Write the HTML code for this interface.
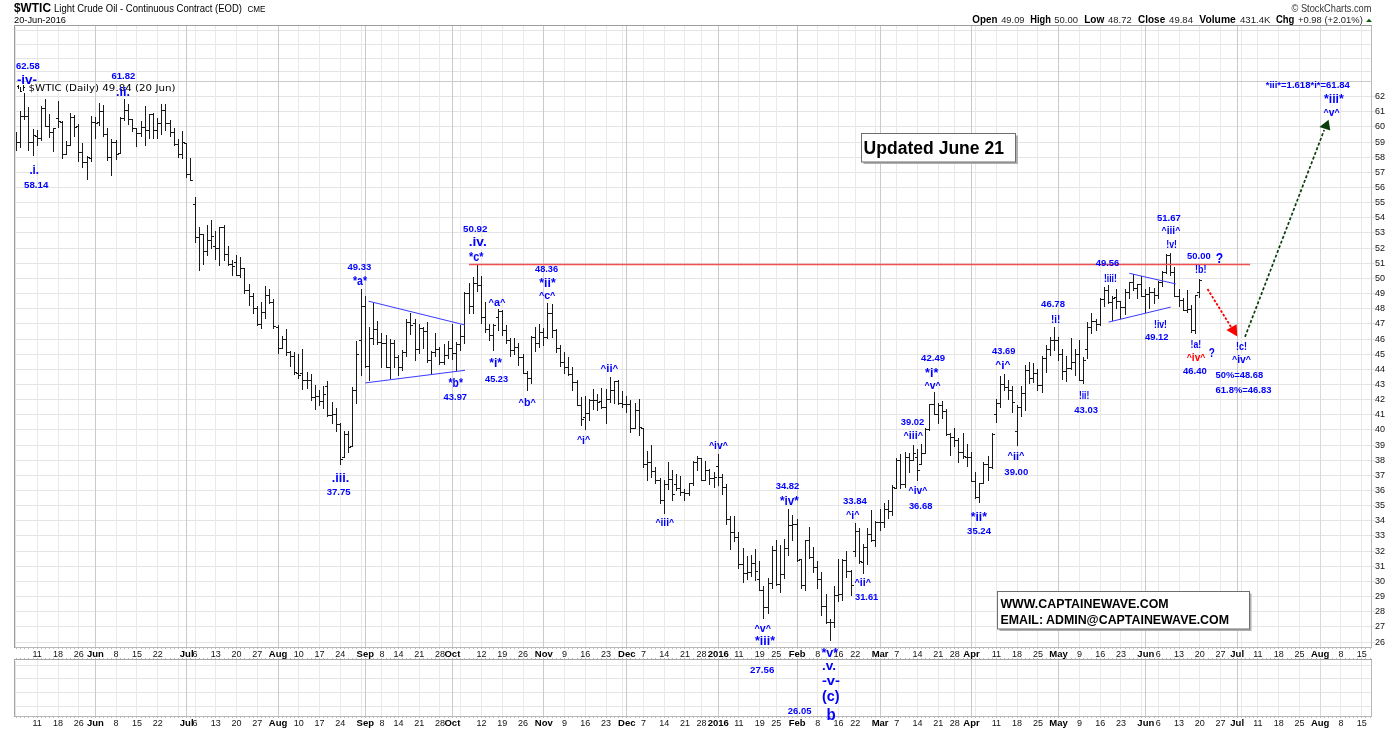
<!DOCTYPE html><html><head><meta charset="utf-8"><title>$WTIC Light Crude Oil</title><style>html,body{margin:0;padding:0;background:#fff}body{width:1400px;height:730px;overflow:hidden}</style></head><body><svg width="1400" height="730" viewBox="0 0 1400 730" style="display:block;font-family:'Liberation Sans',sans-serif">
<rect width="1400" height="730" fill="#fff"/>
<g shape-rendering="crispEdges" fill="none"><path d="M14.5 30.5H1371.5" stroke="#e4e4e4"/><path d="M14.5 44.5H1371.5" stroke="#e4e4e4"/><path d="M14.5 58.5H1371.5" stroke="#e4e4e4"/><path d="M14.5 71.5H1371.5" stroke="#e4e4e4"/><path d="M14.5 642.5H1374.5" stroke="#e4e4e4"/><path d="M14.5 626.5H1374.5" stroke="#e4e4e4"/><path d="M14.5 611.5H1374.5" stroke="#e4e4e4"/><path d="M14.5 596.5H1374.5" stroke="#e4e4e4"/><path d="M14.5 581.5H1374.5" stroke="#e4e4e4"/><path d="M14.5 566.5H1374.5" stroke="#e4e4e4"/><path d="M14.5 551.5H1374.5" stroke="#e4e4e4"/><path d="M14.5 535.5H1374.5" stroke="#e4e4e4"/><path d="M14.5 520.5H1374.5" stroke="#e4e4e4"/><path d="M14.5 505.5H1374.5" stroke="#e4e4e4"/><path d="M14.5 490.5H1374.5" stroke="#e4e4e4"/><path d="M14.5 475.5H1374.5" stroke="#e4e4e4"/><path d="M14.5 460.5H1374.5" stroke="#e4e4e4"/><path d="M14.5 445.5H1374.5" stroke="#e4e4e4"/><path d="M14.5 429.5H1374.5" stroke="#e4e4e4"/><path d="M14.5 414.5H1374.5" stroke="#e4e4e4"/><path d="M14.5 399.5H1374.5" stroke="#e4e4e4"/><path d="M14.5 384.5H1374.5" stroke="#e4e4e4"/><path d="M14.5 369.5H1374.5" stroke="#e4e4e4"/><path d="M14.5 354.5H1374.5" stroke="#e4e4e4"/><path d="M14.5 339.5H1374.5" stroke="#e4e4e4"/><path d="M14.5 323.5H1374.5" stroke="#e4e4e4"/><path d="M14.5 308.5H1374.5" stroke="#e4e4e4"/><path d="M14.5 293.5H1374.5" stroke="#e4e4e4"/><path d="M14.5 278.5H1374.5" stroke="#e4e4e4"/><path d="M14.5 263.5H1374.5" stroke="#e4e4e4"/><path d="M14.5 248.5H1374.5" stroke="#e4e4e4"/><path d="M14.5 232.5H1374.5" stroke="#e4e4e4"/><path d="M14.5 217.5H1374.5" stroke="#e4e4e4"/><path d="M14.5 202.5H1374.5" stroke="#e4e4e4"/><path d="M14.5 187.5H1374.5" stroke="#e4e4e4"/><path d="M14.5 172.5H1374.5" stroke="#e4e4e4"/><path d="M14.5 157.5H1374.5" stroke="#e4e4e4"/><path d="M14.5 142.5H1374.5" stroke="#e4e4e4"/><path d="M14.5 126.5H1374.5" stroke="#e4e4e4"/><path d="M14.5 111.5H1374.5" stroke="#e4e4e4"/><path d="M14.5 96.5H1374.5" stroke="#e4e4e4"/><path d="M14.5 665.5H1371.5" stroke="#e4e4e4"/><path d="M14.5 678.5H1371.5" stroke="#e4e4e4"/><path d="M14.5 692.5H1371.5" stroke="#e4e4e4"/><path d="M14.5 706.5H1371.5" stroke="#e4e4e4"/><path d="M37.5 25.5V647.5M37.5 659.5V716.5" stroke="#e9e9e9"/><path d="M58.5 25.5V647.5M58.5 659.5V716.5" stroke="#e9e9e9"/><path d="M78.5 25.5V647.5M78.5 659.5V716.5" stroke="#e9e9e9"/><path d="M95.5 25.5V647.5M95.5 659.5V716.5" stroke="#cacaca"/><path d="M116.5 25.5V647.5M116.5 659.5V716.5" stroke="#e9e9e9"/><path d="M136.5 25.5V647.5M136.5 659.5V716.5" stroke="#e9e9e9"/><path d="M157.5 25.5V647.5M157.5 659.5V716.5" stroke="#e9e9e9"/><path d="M178.5 25.5V647.5M178.5 659.5V716.5" stroke="#e9e9e9"/><path d="M186.5 25.5V647.5M186.5 659.5V716.5" stroke="#cacaca"/><path d="M195.5 25.5V647.5M195.5 659.5V716.5" stroke="#e9e9e9"/><path d="M215.5 25.5V647.5M215.5 659.5V716.5" stroke="#e9e9e9"/><path d="M236.5 25.5V647.5M236.5 659.5V716.5" stroke="#e9e9e9"/><path d="M257.5 25.5V647.5M257.5 659.5V716.5" stroke="#e9e9e9"/><path d="M278.5 25.5V647.5M278.5 659.5V716.5" stroke="#cacaca"/><path d="M298.5 25.5V647.5M298.5 659.5V716.5" stroke="#e9e9e9"/><path d="M319.5 25.5V647.5M319.5 659.5V716.5" stroke="#e9e9e9"/><path d="M340.5 25.5V647.5M340.5 659.5V716.5" stroke="#e9e9e9"/><path d="M361.5 25.5V647.5M361.5 659.5V716.5" stroke="#e9e9e9"/><path d="M365.5 25.5V647.5M365.5 659.5V716.5" stroke="#cacaca"/><path d="M381.5 25.5V647.5M381.5 659.5V716.5" stroke="#e9e9e9"/><path d="M398.5 25.5V647.5M398.5 659.5V716.5" stroke="#e9e9e9"/><path d="M419.5 25.5V647.5M419.5 659.5V716.5" stroke="#e9e9e9"/><path d="M439.5 25.5V647.5M439.5 659.5V716.5" stroke="#e9e9e9"/><path d="M452.5 25.5V647.5M452.5 659.5V716.5" stroke="#cacaca"/><path d="M460.5 25.5V647.5M460.5 659.5V716.5" stroke="#e9e9e9"/><path d="M481.5 25.5V647.5M481.5 659.5V716.5" stroke="#e9e9e9"/><path d="M502.5 25.5V647.5M502.5 659.5V716.5" stroke="#e9e9e9"/><path d="M523.5 25.5V647.5M523.5 659.5V716.5" stroke="#e9e9e9"/><path d="M543.5 25.5V647.5M543.5 659.5V716.5" stroke="#cacaca"/><path d="M564.5 25.5V647.5M564.5 659.5V716.5" stroke="#e9e9e9"/><path d="M585.5 25.5V647.5M585.5 659.5V716.5" stroke="#e9e9e9"/><path d="M606.5 25.5V647.5M606.5 659.5V716.5" stroke="#e9e9e9"/><path d="M622.5 25.5V647.5M622.5 659.5V716.5" stroke="#e9e9e9"/><path d="M626.5 25.5V647.5M626.5 659.5V716.5" stroke="#cacaca"/><path d="M643.5 25.5V647.5M643.5 659.5V716.5" stroke="#e9e9e9"/><path d="M664.5 25.5V647.5M664.5 659.5V716.5" stroke="#e9e9e9"/><path d="M684.5 25.5V647.5M684.5 659.5V716.5" stroke="#e9e9e9"/><path d="M701.5 25.5V647.5M701.5 659.5V716.5" stroke="#e9e9e9"/><path d="M718.5 25.5V647.5M718.5 659.5V716.5" stroke="#cacaca"/><path d="M738.5 25.5V647.5M738.5 659.5V716.5" stroke="#e9e9e9"/><path d="M759.5 25.5V647.5M759.5 659.5V716.5" stroke="#e9e9e9"/><path d="M776.5 25.5V647.5M776.5 659.5V716.5" stroke="#e9e9e9"/><path d="M797.5 25.5V647.5M797.5 659.5V716.5" stroke="#cacaca"/><path d="M817.5 25.5V647.5M817.5 659.5V716.5" stroke="#e9e9e9"/><path d="M838.5 25.5V647.5M838.5 659.5V716.5" stroke="#e9e9e9"/><path d="M855.5 25.5V647.5M855.5 659.5V716.5" stroke="#e9e9e9"/><path d="M875.5 25.5V647.5M875.5 659.5V716.5" stroke="#e9e9e9"/><path d="M880.5 25.5V647.5M880.5 659.5V716.5" stroke="#cacaca"/><path d="M896.5 25.5V647.5M896.5 659.5V716.5" stroke="#e9e9e9"/><path d="M917.5 25.5V647.5M917.5 659.5V716.5" stroke="#e9e9e9"/><path d="M938.5 25.5V647.5M938.5 659.5V716.5" stroke="#e9e9e9"/><path d="M954.5 25.5V647.5M954.5 659.5V716.5" stroke="#e9e9e9"/><path d="M971.5 25.5V647.5M971.5 659.5V716.5" stroke="#cacaca"/><path d="M975.5 25.5V647.5M975.5 659.5V716.5" stroke="#e9e9e9"/><path d="M996.5 25.5V647.5M996.5 659.5V716.5" stroke="#e9e9e9"/><path d="M1017.5 25.5V647.5M1017.5 659.5V716.5" stroke="#e9e9e9"/><path d="M1037.5 25.5V647.5M1037.5 659.5V716.5" stroke="#e9e9e9"/><path d="M1058.5 25.5V647.5M1058.5 659.5V716.5" stroke="#cacaca"/><path d="M1079.5 25.5V647.5M1079.5 659.5V716.5" stroke="#e9e9e9"/><path d="M1100.5 25.5V647.5M1100.5 659.5V716.5" stroke="#e9e9e9"/><path d="M1120.5 25.5V647.5M1120.5 659.5V716.5" stroke="#e9e9e9"/><path d="M1141.5 25.5V647.5M1141.5 659.5V716.5" stroke="#e9e9e9"/><path d="M1145.5 25.5V647.5M1145.5 659.5V716.5" stroke="#cacaca"/><path d="M1158.5 25.5V647.5M1158.5 659.5V716.5" stroke="#e9e9e9"/><path d="M1179.5 25.5V647.5M1179.5 659.5V716.5" stroke="#e9e9e9"/><path d="M1199.5 25.5V647.5M1199.5 659.5V716.5" stroke="#e9e9e9"/><path d="M1220.5 25.5V647.5M1220.5 659.5V716.5" stroke="#e9e9e9"/><path d="M1237.5 25.5V647.5M1237.5 659.5V716.5" stroke="#cacaca"/><path d="M1241.5 25.5V647.5M1241.5 659.5V716.5" stroke="#e9e9e9"/><path d="M1257.5 25.5V647.5M1257.5 659.5V716.5" stroke="#e9e9e9"/><path d="M1278.5 25.5V647.5M1278.5 659.5V716.5" stroke="#e9e9e9"/><path d="M1299.5 25.5V647.5M1299.5 659.5V716.5" stroke="#e9e9e9"/><path d="M1320.5 25.5V647.5M1320.5 659.5V716.5" stroke="#d9d9d9"/><path d="M1340.5 25.5V647.5M1340.5 659.5V716.5" stroke="#e9e9e9"/><path d="M1361.5 25.5V647.5M1361.5 659.5V716.5" stroke="#e9e9e9"/>
<path d="M14.5 81.5H1371.5" stroke="#cacaca"/>
<path d="M1371.5 25.5V647.5H14.5" stroke="#b8b8b8"/><path d="M14.5 647.5V25.5H1371.5" stroke="#9c9c9c"/>
<path d="M15.5 26.5V646.5M15.5 660.5V715.5" stroke="#e4e4e4"/>
<path d="M1371.5 659.5V716.5H14.5" stroke="#b8b8b8"/><path d="M14.5 716.5V659.5H1371.5" stroke="#a4a4a4"/>
<path d="M16 648.0h1M16 658.0h1M16 717.0h1M20 648.0h1M20 658.0h1M20 717.0h1M24 648.0h1M24 658.0h1M24 717.0h1M28 648.0h1M28 658.0h1M28 717.0h1M33 648.0h1M33 658.0h1M33 717.0h1M37 648.0h1M37 658.0h1M37 717.0h1M41 648.0h1M41 658.0h1M41 717.0h1M45 648.0h1M45 658.0h1M45 717.0h1M49 648.0h1M49 658.0h1M49 717.0h1M53 648.0h1M53 658.0h1M53 717.0h1M58 648.0h1M58 658.0h1M58 717.0h1M62 648.0h1M62 658.0h1M62 717.0h1M66 648.0h1M66 658.0h1M66 717.0h1M70 648.0h1M70 658.0h1M70 717.0h1M74 648.0h1M74 658.0h1M74 717.0h1M78 648.0h1M78 658.0h1M78 717.0h1M82 648.0h1M82 658.0h1M82 717.0h1M87 648.0h1M87 658.0h1M87 717.0h1M91 648.0h1M91 658.0h1M91 717.0h1M95 648.0h1M95 658.0h1M95 717.0h1M99 648.0h1M99 658.0h1M99 717.0h1M103 648.0h1M103 658.0h1M103 717.0h1M107 648.0h1M107 658.0h1M107 717.0h1M111 648.0h1M111 658.0h1M111 717.0h1M116 648.0h1M116 658.0h1M116 717.0h1M120 648.0h1M120 658.0h1M120 717.0h1M124 648.0h1M124 658.0h1M124 717.0h1M128 648.0h1M128 658.0h1M128 717.0h1M132 648.0h1M132 658.0h1M132 717.0h1M136 648.0h1M136 658.0h1M136 717.0h1M141 648.0h1M141 658.0h1M141 717.0h1M145 648.0h1M145 658.0h1M145 717.0h1M149 648.0h1M149 658.0h1M149 717.0h1M153 648.0h1M153 658.0h1M153 717.0h1M157 648.0h1M157 658.0h1M157 717.0h1M161 648.0h1M161 658.0h1M161 717.0h1M165 648.0h1M165 658.0h1M165 717.0h1M170 648.0h1M170 658.0h1M170 717.0h1M174 648.0h1M174 658.0h1M174 717.0h1M178 648.0h1M178 658.0h1M178 717.0h1M182 648.0h1M182 658.0h1M182 717.0h1M186 648.0h1M186 658.0h1M186 717.0h1M190 648.0h1M190 658.0h1M190 717.0h1M195 648.0h1M195 658.0h1M195 717.0h1M199 648.0h1M199 658.0h1M199 717.0h1M203 648.0h1M203 658.0h1M203 717.0h1M207 648.0h1M207 658.0h1M207 717.0h1M211 648.0h1M211 658.0h1M211 717.0h1M215 648.0h1M215 658.0h1M215 717.0h1M219 648.0h1M219 658.0h1M219 717.0h1M224 648.0h1M224 658.0h1M224 717.0h1M228 648.0h1M228 658.0h1M228 717.0h1M232 648.0h1M232 658.0h1M232 717.0h1M236 648.0h1M236 658.0h1M236 717.0h1M240 648.0h1M240 658.0h1M240 717.0h1M244 648.0h1M244 658.0h1M244 717.0h1M249 648.0h1M249 658.0h1M249 717.0h1M253 648.0h1M253 658.0h1M253 717.0h1M257 648.0h1M257 658.0h1M257 717.0h1M261 648.0h1M261 658.0h1M261 717.0h1M265 648.0h1M265 658.0h1M265 717.0h1M269 648.0h1M269 658.0h1M269 717.0h1M273 648.0h1M273 658.0h1M273 717.0h1M278 648.0h1M278 658.0h1M278 717.0h1M282 648.0h1M282 658.0h1M282 717.0h1M286 648.0h1M286 658.0h1M286 717.0h1M290 648.0h1M290 658.0h1M290 717.0h1M294 648.0h1M294 658.0h1M294 717.0h1M298 648.0h1M298 658.0h1M298 717.0h1M302 648.0h1M302 658.0h1M302 717.0h1M307 648.0h1M307 658.0h1M307 717.0h1M311 648.0h1M311 658.0h1M311 717.0h1M315 648.0h1M315 658.0h1M315 717.0h1M319 648.0h1M319 658.0h1M319 717.0h1M323 648.0h1M323 658.0h1M323 717.0h1M327 648.0h1M327 658.0h1M327 717.0h1M332 648.0h1M332 658.0h1M332 717.0h1M336 648.0h1M336 658.0h1M336 717.0h1M340 648.0h1M340 658.0h1M340 717.0h1M344 648.0h1M344 658.0h1M344 717.0h1M348 648.0h1M348 658.0h1M348 717.0h1M352 648.0h1M352 658.0h1M352 717.0h1M356 648.0h1M356 658.0h1M356 717.0h1M361 648.0h1M361 658.0h1M361 717.0h1M365 648.0h1M365 658.0h1M365 717.0h1M369 648.0h1M369 658.0h1M369 717.0h1M373 648.0h1M373 658.0h1M373 717.0h1M377 648.0h1M377 658.0h1M377 717.0h1M381 648.0h1M381 658.0h1M381 717.0h1M386 648.0h1M386 658.0h1M386 717.0h1M390 648.0h1M390 658.0h1M390 717.0h1M394 648.0h1M394 658.0h1M394 717.0h1M398 648.0h1M398 658.0h1M398 717.0h1M402 648.0h1M402 658.0h1M402 717.0h1M406 648.0h1M406 658.0h1M406 717.0h1M410 648.0h1M410 658.0h1M410 717.0h1M415 648.0h1M415 658.0h1M415 717.0h1M419 648.0h1M419 658.0h1M419 717.0h1M423 648.0h1M423 658.0h1M423 717.0h1M427 648.0h1M427 658.0h1M427 717.0h1M431 648.0h1M431 658.0h1M431 717.0h1M435 648.0h1M435 658.0h1M435 717.0h1M439 648.0h1M439 658.0h1M439 717.0h1M444 648.0h1M444 658.0h1M444 717.0h1M448 648.0h1M448 658.0h1M448 717.0h1M452 648.0h1M452 658.0h1M452 717.0h1M456 648.0h1M456 658.0h1M456 717.0h1M460 648.0h1M460 658.0h1M460 717.0h1M464 648.0h1M464 658.0h1M464 717.0h1M469 648.0h1M469 658.0h1M469 717.0h1M473 648.0h1M473 658.0h1M473 717.0h1M477 648.0h1M477 658.0h1M477 717.0h1M481 648.0h1M481 658.0h1M481 717.0h1M485 648.0h1M485 658.0h1M485 717.0h1M489 648.0h1M489 658.0h1M489 717.0h1M493 648.0h1M493 658.0h1M493 717.0h1M498 648.0h1M498 658.0h1M498 717.0h1M502 648.0h1M502 658.0h1M502 717.0h1M506 648.0h1M506 658.0h1M506 717.0h1M510 648.0h1M510 658.0h1M510 717.0h1M514 648.0h1M514 658.0h1M514 717.0h1M518 648.0h1M518 658.0h1M518 717.0h1M523 648.0h1M523 658.0h1M523 717.0h1M527 648.0h1M527 658.0h1M527 717.0h1M531 648.0h1M531 658.0h1M531 717.0h1M535 648.0h1M535 658.0h1M535 717.0h1M539 648.0h1M539 658.0h1M539 717.0h1M543 648.0h1M543 658.0h1M543 717.0h1M547 648.0h1M547 658.0h1M547 717.0h1M552 648.0h1M552 658.0h1M552 717.0h1M556 648.0h1M556 658.0h1M556 717.0h1M560 648.0h1M560 658.0h1M560 717.0h1M564 648.0h1M564 658.0h1M564 717.0h1M568 648.0h1M568 658.0h1M568 717.0h1M572 648.0h1M572 658.0h1M572 717.0h1M577 648.0h1M577 658.0h1M577 717.0h1M581 648.0h1M581 658.0h1M581 717.0h1M585 648.0h1M585 658.0h1M585 717.0h1M589 648.0h1M589 658.0h1M589 717.0h1M593 648.0h1M593 658.0h1M593 717.0h1M597 648.0h1M597 658.0h1M597 717.0h1M601 648.0h1M601 658.0h1M601 717.0h1M606 648.0h1M606 658.0h1M606 717.0h1M610 648.0h1M610 658.0h1M610 717.0h1M614 648.0h1M614 658.0h1M614 717.0h1M618 648.0h1M618 658.0h1M618 717.0h1M622 648.0h1M622 658.0h1M622 717.0h1M626 648.0h1M626 658.0h1M626 717.0h1M630 648.0h1M630 658.0h1M630 717.0h1M635 648.0h1M635 658.0h1M635 717.0h1M639 648.0h1M639 658.0h1M639 717.0h1M643 648.0h1M643 658.0h1M643 717.0h1M647 648.0h1M647 658.0h1M647 717.0h1M651 648.0h1M651 658.0h1M651 717.0h1M655 648.0h1M655 658.0h1M655 717.0h1M660 648.0h1M660 658.0h1M660 717.0h1M664 648.0h1M664 658.0h1M664 717.0h1M668 648.0h1M668 658.0h1M668 717.0h1M672 648.0h1M672 658.0h1M672 717.0h1M676 648.0h1M676 658.0h1M676 717.0h1M680 648.0h1M680 658.0h1M680 717.0h1M684 648.0h1M684 658.0h1M684 717.0h1M689 648.0h1M689 658.0h1M689 717.0h1M693 648.0h1M693 658.0h1M693 717.0h1M697 648.0h1M697 658.0h1M697 717.0h1M701 648.0h1M701 658.0h1M701 717.0h1M705 648.0h1M705 658.0h1M705 717.0h1M709 648.0h1M709 658.0h1M709 717.0h1M714 648.0h1M714 658.0h1M714 717.0h1M718 648.0h1M718 658.0h1M718 717.0h1M722 648.0h1M722 658.0h1M722 717.0h1M726 648.0h1M726 658.0h1M726 717.0h1M730 648.0h1M730 658.0h1M730 717.0h1M734 648.0h1M734 658.0h1M734 717.0h1M738 648.0h1M738 658.0h1M738 717.0h1M743 648.0h1M743 658.0h1M743 717.0h1M747 648.0h1M747 658.0h1M747 717.0h1M751 648.0h1M751 658.0h1M751 717.0h1M755 648.0h1M755 658.0h1M755 717.0h1M759 648.0h1M759 658.0h1M759 717.0h1M763 648.0h1M763 658.0h1M763 717.0h1M768 648.0h1M768 658.0h1M768 717.0h1M772 648.0h1M772 658.0h1M772 717.0h1M776 648.0h1M776 658.0h1M776 717.0h1M780 648.0h1M780 658.0h1M780 717.0h1M784 648.0h1M784 658.0h1M784 717.0h1M788 648.0h1M788 658.0h1M788 717.0h1M792 648.0h1M792 658.0h1M792 717.0h1M797 648.0h1M797 658.0h1M797 717.0h1M801 648.0h1M801 658.0h1M801 717.0h1M805 648.0h1M805 658.0h1M805 717.0h1M809 648.0h1M809 658.0h1M809 717.0h1M813 648.0h1M813 658.0h1M813 717.0h1M817 648.0h1M817 658.0h1M817 717.0h1M821 648.0h1M821 658.0h1M821 717.0h1M826 648.0h1M826 658.0h1M826 717.0h1M830 648.0h1M830 658.0h1M830 717.0h1M834 648.0h1M834 658.0h1M834 717.0h1M838 648.0h1M838 658.0h1M838 717.0h1M842 648.0h1M842 658.0h1M842 717.0h1M846 648.0h1M846 658.0h1M846 717.0h1M851 648.0h1M851 658.0h1M851 717.0h1M855 648.0h1M855 658.0h1M855 717.0h1M859 648.0h1M859 658.0h1M859 717.0h1M863 648.0h1M863 658.0h1M863 717.0h1M867 648.0h1M867 658.0h1M867 717.0h1M871 648.0h1M871 658.0h1M871 717.0h1M875 648.0h1M875 658.0h1M875 717.0h1M880 648.0h1M880 658.0h1M880 717.0h1M884 648.0h1M884 658.0h1M884 717.0h1M888 648.0h1M888 658.0h1M888 717.0h1M892 648.0h1M892 658.0h1M892 717.0h1M896 648.0h1M896 658.0h1M896 717.0h1M900 648.0h1M900 658.0h1M900 717.0h1M905 648.0h1M905 658.0h1M905 717.0h1M909 648.0h1M909 658.0h1M909 717.0h1M913 648.0h1M913 658.0h1M913 717.0h1M917 648.0h1M917 658.0h1M917 717.0h1M921 648.0h1M921 658.0h1M921 717.0h1M925 648.0h1M925 658.0h1M925 717.0h1M929 648.0h1M929 658.0h1M929 717.0h1M934 648.0h1M934 658.0h1M934 717.0h1M938 648.0h1M938 658.0h1M938 717.0h1M942 648.0h1M942 658.0h1M942 717.0h1M946 648.0h1M946 658.0h1M946 717.0h1M950 648.0h1M950 658.0h1M950 717.0h1M954 648.0h1M954 658.0h1M954 717.0h1M958 648.0h1M958 658.0h1M958 717.0h1M963 648.0h1M963 658.0h1M963 717.0h1M967 648.0h1M967 658.0h1M967 717.0h1M971 648.0h1M971 658.0h1M971 717.0h1M975 648.0h1M975 658.0h1M975 717.0h1M979 648.0h1M979 658.0h1M979 717.0h1M983 648.0h1M983 658.0h1M983 717.0h1M988 648.0h1M988 658.0h1M988 717.0h1M992 648.0h1M992 658.0h1M992 717.0h1M996 648.0h1M996 658.0h1M996 717.0h1M1000 648.0h1M1000 658.0h1M1000 717.0h1M1004 648.0h1M1004 658.0h1M1004 717.0h1M1008 648.0h1M1008 658.0h1M1008 717.0h1M1012 648.0h1M1012 658.0h1M1012 717.0h1M1017 648.0h1M1017 658.0h1M1017 717.0h1M1021 648.0h1M1021 658.0h1M1021 717.0h1M1025 648.0h1M1025 658.0h1M1025 717.0h1M1029 648.0h1M1029 658.0h1M1029 717.0h1M1033 648.0h1M1033 658.0h1M1033 717.0h1M1037 648.0h1M1037 658.0h1M1037 717.0h1M1042 648.0h1M1042 658.0h1M1042 717.0h1M1046 648.0h1M1046 658.0h1M1046 717.0h1M1050 648.0h1M1050 658.0h1M1050 717.0h1M1054 648.0h1M1054 658.0h1M1054 717.0h1M1058 648.0h1M1058 658.0h1M1058 717.0h1M1062 648.0h1M1062 658.0h1M1062 717.0h1M1066 648.0h1M1066 658.0h1M1066 717.0h1M1071 648.0h1M1071 658.0h1M1071 717.0h1M1075 648.0h1M1075 658.0h1M1075 717.0h1M1079 648.0h1M1079 658.0h1M1079 717.0h1M1083 648.0h1M1083 658.0h1M1083 717.0h1M1087 648.0h1M1087 658.0h1M1087 717.0h1M1091 648.0h1M1091 658.0h1M1091 717.0h1M1096 648.0h1M1096 658.0h1M1096 717.0h1M1100 648.0h1M1100 658.0h1M1100 717.0h1M1104 648.0h1M1104 658.0h1M1104 717.0h1M1108 648.0h1M1108 658.0h1M1108 717.0h1M1112 648.0h1M1112 658.0h1M1112 717.0h1M1116 648.0h1M1116 658.0h1M1116 717.0h1M1120 648.0h1M1120 658.0h1M1120 717.0h1M1125 648.0h1M1125 658.0h1M1125 717.0h1M1129 648.0h1M1129 658.0h1M1129 717.0h1M1133 648.0h1M1133 658.0h1M1133 717.0h1M1137 648.0h1M1137 658.0h1M1137 717.0h1M1141 648.0h1M1141 658.0h1M1141 717.0h1M1145 648.0h1M1145 658.0h1M1145 717.0h1M1149 648.0h1M1149 658.0h1M1149 717.0h1M1154 648.0h1M1154 658.0h1M1154 717.0h1M1158 648.0h1M1158 658.0h1M1158 717.0h1M1162 648.0h1M1162 658.0h1M1162 717.0h1M1166 648.0h1M1166 658.0h1M1166 717.0h1M1170 648.0h1M1170 658.0h1M1170 717.0h1M1174 648.0h1M1174 658.0h1M1174 717.0h1M1179 648.0h1M1179 658.0h1M1179 717.0h1M1183 648.0h1M1183 658.0h1M1183 717.0h1M1187 648.0h1M1187 658.0h1M1187 717.0h1M1191 648.0h1M1191 658.0h1M1191 717.0h1M1195 648.0h1M1195 658.0h1M1195 717.0h1M1199 648.0h1M1199 658.0h1M1199 717.0h1M1203 648.0h1M1203 658.0h1M1203 717.0h1M1208 648.0h1M1208 658.0h1M1208 717.0h1M1212 648.0h1M1212 658.0h1M1212 717.0h1M1216 648.0h1M1216 658.0h1M1216 717.0h1M1220 648.0h1M1220 658.0h1M1220 717.0h1M1224 648.0h1M1224 658.0h1M1224 717.0h1M1228 648.0h1M1228 658.0h1M1228 717.0h1M1233 648.0h1M1233 658.0h1M1233 717.0h1M1237 648.0h1M1237 658.0h1M1237 717.0h1M1241 648.0h1M1241 658.0h1M1241 717.0h1M1245 648.0h1M1245 658.0h1M1245 717.0h1M1249 648.0h1M1249 658.0h1M1249 717.0h1M1253 648.0h1M1253 658.0h1M1253 717.0h1M1257 648.0h1M1257 658.0h1M1257 717.0h1M1262 648.0h1M1262 658.0h1M1262 717.0h1M1266 648.0h1M1266 658.0h1M1266 717.0h1M1270 648.0h1M1270 658.0h1M1270 717.0h1M1274 648.0h1M1274 658.0h1M1274 717.0h1M1278 648.0h1M1278 658.0h1M1278 717.0h1M1282 648.0h1M1282 658.0h1M1282 717.0h1M1287 648.0h1M1287 658.0h1M1287 717.0h1M1291 648.0h1M1291 658.0h1M1291 717.0h1M1295 648.0h1M1295 658.0h1M1295 717.0h1M1299 648.0h1M1299 658.0h1M1299 717.0h1M1303 648.0h1M1303 658.0h1M1303 717.0h1M1307 648.0h1M1307 658.0h1M1307 717.0h1M1311 648.0h1M1311 658.0h1M1311 717.0h1M1316 648.0h1M1316 658.0h1M1316 717.0h1M1320 648.0h1M1320 658.0h1M1320 717.0h1M1324 648.0h1M1324 658.0h1M1324 717.0h1M1328 648.0h1M1328 658.0h1M1328 717.0h1M1332 648.0h1M1332 658.0h1M1332 717.0h1M1336 648.0h1M1336 658.0h1M1336 717.0h1M1340 648.0h1M1340 658.0h1M1340 717.0h1M1345 648.0h1M1345 658.0h1M1345 717.0h1M1349 648.0h1M1349 658.0h1M1349 717.0h1M1353 648.0h1M1353 658.0h1M1353 717.0h1M1357 648.0h1M1357 658.0h1M1357 717.0h1M1361 648.0h1M1361 658.0h1M1361 717.0h1M1365 648.0h1M1365 658.0h1M1365 717.0h1M1370 648.0h1M1370 658.0h1M1370 717.0h1" stroke="#bdbdbd"/>
</g>
<text x="37.2" y="656.7" font-size="9" text-anchor="middle" fill="#111">11</text>
<text x="58.0" y="656.7" font-size="9" text-anchor="middle" fill="#111">18</text>
<text x="78.8" y="656.7" font-size="9" text-anchor="middle" fill="#111">26</text>
<text x="95.4" y="656.7" font-size="9.5" font-weight="bold" text-anchor="middle">Jun</text>
<text x="116.1" y="656.7" font-size="9" text-anchor="middle" fill="#111">8</text>
<text x="136.9" y="656.7" font-size="9" text-anchor="middle" fill="#111">15</text>
<text x="157.7" y="656.7" font-size="9" text-anchor="middle" fill="#111">22</text>
<text x="186.7" y="656.7" font-size="9.5" font-weight="bold" text-anchor="middle">Jul</text>
<text x="195.0" y="656.7" font-size="9" text-anchor="middle" fill="#111">6</text>
<text x="215.8" y="656.7" font-size="9" text-anchor="middle" fill="#111">13</text>
<text x="236.5" y="656.7" font-size="9" text-anchor="middle" fill="#111">20</text>
<text x="257.3" y="656.7" font-size="9" text-anchor="middle" fill="#111">27</text>
<text x="278.1" y="656.7" font-size="9.5" font-weight="bold" text-anchor="middle">Aug</text>
<text x="298.8" y="656.7" font-size="9" text-anchor="middle" fill="#111">10</text>
<text x="319.6" y="656.7" font-size="9" text-anchor="middle" fill="#111">17</text>
<text x="340.3" y="656.7" font-size="9" text-anchor="middle" fill="#111">24</text>
<text x="365.3" y="656.7" font-size="9.5" font-weight="bold" text-anchor="middle">Sep</text>
<text x="381.9" y="656.7" font-size="9" text-anchor="middle" fill="#111">8</text>
<text x="398.5" y="656.7" font-size="9" text-anchor="middle" fill="#111">14</text>
<text x="419.2" y="656.7" font-size="9" text-anchor="middle" fill="#111">21</text>
<text x="440.0" y="656.7" font-size="9" text-anchor="middle" fill="#111">28</text>
<text x="452.4" y="656.7" font-size="9.5" font-weight="bold" text-anchor="middle">Oct</text>
<text x="481.5" y="656.7" font-size="9" text-anchor="middle" fill="#111">12</text>
<text x="502.3" y="656.7" font-size="9" text-anchor="middle" fill="#111">19</text>
<text x="523.0" y="656.7" font-size="9" text-anchor="middle" fill="#111">26</text>
<text x="543.8" y="656.7" font-size="9.5" font-weight="bold" text-anchor="middle">Nov</text>
<text x="564.6" y="656.7" font-size="9" text-anchor="middle" fill="#111">9</text>
<text x="585.3" y="656.7" font-size="9" text-anchor="middle" fill="#111">16</text>
<text x="606.1" y="656.7" font-size="9" text-anchor="middle" fill="#111">23</text>
<text x="626.8" y="656.7" font-size="9.5" font-weight="bold" text-anchor="middle">Dec</text>
<text x="643.4" y="656.7" font-size="9" text-anchor="middle" fill="#111">7</text>
<text x="664.2" y="656.7" font-size="9" text-anchor="middle" fill="#111">14</text>
<text x="685.0" y="656.7" font-size="9" text-anchor="middle" fill="#111">21</text>
<text x="701.6" y="656.7" font-size="9" text-anchor="middle" fill="#111">28</text>
<text x="718.2" y="656.7" font-size="9.5" font-weight="bold" text-anchor="middle">2016</text>
<text x="738.9" y="656.7" font-size="9" text-anchor="middle" fill="#111">11</text>
<text x="759.7" y="656.7" font-size="9" text-anchor="middle" fill="#111">19</text>
<text x="776.3" y="656.7" font-size="9" text-anchor="middle" fill="#111">25</text>
<text x="797.1" y="656.7" font-size="9.5" font-weight="bold" text-anchor="middle">Feb</text>
<text x="817.8" y="656.7" font-size="9" text-anchor="middle" fill="#111">8</text>
<text x="838.6" y="656.7" font-size="9" text-anchor="middle" fill="#111">16</text>
<text x="855.2" y="656.7" font-size="9" text-anchor="middle" fill="#111">22</text>
<text x="880.1" y="656.7" font-size="9.5" font-weight="bold" text-anchor="middle">Mar</text>
<text x="896.7" y="656.7" font-size="9" text-anchor="middle" fill="#111">7</text>
<text x="917.5" y="656.7" font-size="9" text-anchor="middle" fill="#111">14</text>
<text x="938.2" y="656.7" font-size="9" text-anchor="middle" fill="#111">21</text>
<text x="954.8" y="656.7" font-size="9" text-anchor="middle" fill="#111">28</text>
<text x="971.5" y="656.7" font-size="9.5" font-weight="bold" text-anchor="middle">Apr</text>
<text x="996.4" y="656.7" font-size="9" text-anchor="middle" fill="#111">11</text>
<text x="1017.1" y="656.7" font-size="9" text-anchor="middle" fill="#111">18</text>
<text x="1037.9" y="656.7" font-size="9" text-anchor="middle" fill="#111">25</text>
<text x="1058.6" y="656.7" font-size="9.5" font-weight="bold" text-anchor="middle">May</text>
<text x="1079.4" y="656.7" font-size="9" text-anchor="middle" fill="#111">9</text>
<text x="1100.2" y="656.7" font-size="9" text-anchor="middle" fill="#111">16</text>
<text x="1120.9" y="656.7" font-size="9" text-anchor="middle" fill="#111">23</text>
<text x="1145.8" y="656.7" font-size="9.5" font-weight="bold" text-anchor="middle">Jun</text>
<text x="1158.3" y="656.7" font-size="9" text-anchor="middle" fill="#111">6</text>
<text x="1179.0" y="656.7" font-size="9" text-anchor="middle" fill="#111">13</text>
<text x="1199.8" y="656.7" font-size="9" text-anchor="middle" fill="#111">20</text>
<text x="1220.6" y="656.7" font-size="9" text-anchor="middle" fill="#111">27</text>
<text x="1237.2" y="656.7" font-size="9.5" font-weight="bold" text-anchor="middle">Jul</text>
<text x="1257.9" y="656.7" font-size="9" text-anchor="middle" fill="#111">11</text>
<text x="1278.7" y="656.7" font-size="9" text-anchor="middle" fill="#111">18</text>
<text x="1299.5" y="656.7" font-size="9" text-anchor="middle" fill="#111">25</text>
<text x="1320.2" y="656.7" font-size="9.5" font-weight="bold" text-anchor="middle">Aug</text>
<text x="1341.0" y="656.7" font-size="9" text-anchor="middle" fill="#111">8</text>
<text x="1361.7" y="656.7" font-size="9" text-anchor="middle" fill="#111">15</text>
<text x="37.2" y="725.7" font-size="9" text-anchor="middle" fill="#111">11</text>
<text x="58.0" y="725.7" font-size="9" text-anchor="middle" fill="#111">18</text>
<text x="78.8" y="725.7" font-size="9" text-anchor="middle" fill="#111">26</text>
<text x="95.4" y="725.7" font-size="9.5" font-weight="bold" text-anchor="middle">Jun</text>
<text x="116.1" y="725.7" font-size="9" text-anchor="middle" fill="#111">8</text>
<text x="136.9" y="725.7" font-size="9" text-anchor="middle" fill="#111">15</text>
<text x="157.7" y="725.7" font-size="9" text-anchor="middle" fill="#111">22</text>
<text x="186.7" y="725.7" font-size="9.5" font-weight="bold" text-anchor="middle">Jul</text>
<text x="195.0" y="725.7" font-size="9" text-anchor="middle" fill="#111">6</text>
<text x="215.8" y="725.7" font-size="9" text-anchor="middle" fill="#111">13</text>
<text x="236.5" y="725.7" font-size="9" text-anchor="middle" fill="#111">20</text>
<text x="257.3" y="725.7" font-size="9" text-anchor="middle" fill="#111">27</text>
<text x="278.1" y="725.7" font-size="9.5" font-weight="bold" text-anchor="middle">Aug</text>
<text x="298.8" y="725.7" font-size="9" text-anchor="middle" fill="#111">10</text>
<text x="319.6" y="725.7" font-size="9" text-anchor="middle" fill="#111">17</text>
<text x="340.3" y="725.7" font-size="9" text-anchor="middle" fill="#111">24</text>
<text x="365.3" y="725.7" font-size="9.5" font-weight="bold" text-anchor="middle">Sep</text>
<text x="381.9" y="725.7" font-size="9" text-anchor="middle" fill="#111">8</text>
<text x="398.5" y="725.7" font-size="9" text-anchor="middle" fill="#111">14</text>
<text x="419.2" y="725.7" font-size="9" text-anchor="middle" fill="#111">21</text>
<text x="440.0" y="725.7" font-size="9" text-anchor="middle" fill="#111">28</text>
<text x="452.4" y="725.7" font-size="9.5" font-weight="bold" text-anchor="middle">Oct</text>
<text x="481.5" y="725.7" font-size="9" text-anchor="middle" fill="#111">12</text>
<text x="502.3" y="725.7" font-size="9" text-anchor="middle" fill="#111">19</text>
<text x="523.0" y="725.7" font-size="9" text-anchor="middle" fill="#111">26</text>
<text x="543.8" y="725.7" font-size="9.5" font-weight="bold" text-anchor="middle">Nov</text>
<text x="564.6" y="725.7" font-size="9" text-anchor="middle" fill="#111">9</text>
<text x="585.3" y="725.7" font-size="9" text-anchor="middle" fill="#111">16</text>
<text x="606.1" y="725.7" font-size="9" text-anchor="middle" fill="#111">23</text>
<text x="626.8" y="725.7" font-size="9.5" font-weight="bold" text-anchor="middle">Dec</text>
<text x="643.4" y="725.7" font-size="9" text-anchor="middle" fill="#111">7</text>
<text x="664.2" y="725.7" font-size="9" text-anchor="middle" fill="#111">14</text>
<text x="685.0" y="725.7" font-size="9" text-anchor="middle" fill="#111">21</text>
<text x="701.6" y="725.7" font-size="9" text-anchor="middle" fill="#111">28</text>
<text x="718.2" y="725.7" font-size="9.5" font-weight="bold" text-anchor="middle">2016</text>
<text x="738.9" y="725.7" font-size="9" text-anchor="middle" fill="#111">11</text>
<text x="759.7" y="725.7" font-size="9" text-anchor="middle" fill="#111">19</text>
<text x="776.3" y="725.7" font-size="9" text-anchor="middle" fill="#111">25</text>
<text x="797.1" y="725.7" font-size="9.5" font-weight="bold" text-anchor="middle">Feb</text>
<text x="817.8" y="725.7" font-size="9" text-anchor="middle" fill="#111">8</text>
<text x="838.6" y="725.7" font-size="9" text-anchor="middle" fill="#111">16</text>
<text x="855.2" y="725.7" font-size="9" text-anchor="middle" fill="#111">22</text>
<text x="880.1" y="725.7" font-size="9.5" font-weight="bold" text-anchor="middle">Mar</text>
<text x="896.7" y="725.7" font-size="9" text-anchor="middle" fill="#111">7</text>
<text x="917.5" y="725.7" font-size="9" text-anchor="middle" fill="#111">14</text>
<text x="938.2" y="725.7" font-size="9" text-anchor="middle" fill="#111">21</text>
<text x="954.8" y="725.7" font-size="9" text-anchor="middle" fill="#111">28</text>
<text x="971.5" y="725.7" font-size="9.5" font-weight="bold" text-anchor="middle">Apr</text>
<text x="996.4" y="725.7" font-size="9" text-anchor="middle" fill="#111">11</text>
<text x="1017.1" y="725.7" font-size="9" text-anchor="middle" fill="#111">18</text>
<text x="1037.9" y="725.7" font-size="9" text-anchor="middle" fill="#111">25</text>
<text x="1058.6" y="725.7" font-size="9.5" font-weight="bold" text-anchor="middle">May</text>
<text x="1079.4" y="725.7" font-size="9" text-anchor="middle" fill="#111">9</text>
<text x="1100.2" y="725.7" font-size="9" text-anchor="middle" fill="#111">16</text>
<text x="1120.9" y="725.7" font-size="9" text-anchor="middle" fill="#111">23</text>
<text x="1145.8" y="725.7" font-size="9.5" font-weight="bold" text-anchor="middle">Jun</text>
<text x="1158.3" y="725.7" font-size="9" text-anchor="middle" fill="#111">6</text>
<text x="1179.0" y="725.7" font-size="9" text-anchor="middle" fill="#111">13</text>
<text x="1199.8" y="725.7" font-size="9" text-anchor="middle" fill="#111">20</text>
<text x="1220.6" y="725.7" font-size="9" text-anchor="middle" fill="#111">27</text>
<text x="1237.2" y="725.7" font-size="9.5" font-weight="bold" text-anchor="middle">Jul</text>
<text x="1257.9" y="725.7" font-size="9" text-anchor="middle" fill="#111">11</text>
<text x="1278.7" y="725.7" font-size="9" text-anchor="middle" fill="#111">18</text>
<text x="1299.5" y="725.7" font-size="9" text-anchor="middle" fill="#111">25</text>
<text x="1320.2" y="725.7" font-size="9.5" font-weight="bold" text-anchor="middle">Aug</text>
<text x="1341.0" y="725.7" font-size="9" text-anchor="middle" fill="#111">8</text>
<text x="1361.7" y="725.7" font-size="9" text-anchor="middle" fill="#111">15</text>
<text x="1375" y="644.8" font-size="9" fill="#111">26</text>
<text x="1375" y="628.8" font-size="9" fill="#111">27</text>
<text x="1375" y="613.8" font-size="9" fill="#111">28</text>
<text x="1375" y="598.8" font-size="9" fill="#111">29</text>
<text x="1375" y="583.8" font-size="9" fill="#111">30</text>
<text x="1375" y="568.8" font-size="9" fill="#111">31</text>
<text x="1375" y="553.8" font-size="9" fill="#111">32</text>
<text x="1375" y="537.8" font-size="9" fill="#111">33</text>
<text x="1375" y="522.8" font-size="9" fill="#111">34</text>
<text x="1375" y="507.8" font-size="9" fill="#111">35</text>
<text x="1375" y="492.8" font-size="9" fill="#111">36</text>
<text x="1375" y="477.8" font-size="9" fill="#111">37</text>
<text x="1375" y="462.8" font-size="9" fill="#111">38</text>
<text x="1375" y="447.8" font-size="9" fill="#111">39</text>
<text x="1375" y="431.8" font-size="9" fill="#111">40</text>
<text x="1375" y="416.8" font-size="9" fill="#111">41</text>
<text x="1375" y="401.8" font-size="9" fill="#111">42</text>
<text x="1375" y="386.8" font-size="9" fill="#111">43</text>
<text x="1375" y="371.8" font-size="9" fill="#111">44</text>
<text x="1375" y="356.8" font-size="9" fill="#111">45</text>
<text x="1375" y="341.8" font-size="9" fill="#111">46</text>
<text x="1375" y="325.8" font-size="9" fill="#111">47</text>
<text x="1375" y="310.8" font-size="9" fill="#111">48</text>
<text x="1375" y="295.8" font-size="9" fill="#111">49</text>
<text x="1375" y="280.8" font-size="9" fill="#111">50</text>
<text x="1375" y="265.8" font-size="9" fill="#111">51</text>
<text x="1375" y="250.8" font-size="9" fill="#111">52</text>
<text x="1375" y="234.8" font-size="9" fill="#111">53</text>
<text x="1375" y="219.8" font-size="9" fill="#111">54</text>
<text x="1375" y="204.8" font-size="9" fill="#111">55</text>
<text x="1375" y="189.8" font-size="9" fill="#111">56</text>
<text x="1375" y="174.8" font-size="9" fill="#111">57</text>
<text x="1375" y="159.8" font-size="9" fill="#111">58</text>
<text x="1375" y="144.8" font-size="9" fill="#111">59</text>
<text x="1375" y="128.8" font-size="9" fill="#111">60</text>
<text x="1375" y="113.8" font-size="9" fill="#111">61</text>
<text x="1375" y="98.8" font-size="9" fill="#111">62</text>
<text x="14" y="12" font-size="13.5" font-weight="bold" textLength="37" lengthAdjust="spacingAndGlyphs">$WTIC</text>
<text x="54" y="11.5" font-size="11" textLength="188" lengthAdjust="spacingAndGlyphs">Light Crude Oil - Continuous Contract (EOD)</text>
<text x="247.5" y="11.5" font-size="8.5" textLength="18" lengthAdjust="spacingAndGlyphs">CME</text>
<text x="14" y="23" font-size="9.5" textLength="52" lengthAdjust="spacingAndGlyphs">20-Jun-2016</text>
<text x="1291.5" y="11.5" font-size="10" fill="#333" textLength="80" lengthAdjust="spacingAndGlyphs">© StockCharts.com</text>
<text x="972.3" y="23" font-size="10" font-weight="bold" textLength="25.1" lengthAdjust="spacingAndGlyphs">Open</text>
<text x="1001.2" y="23" font-size="9" fill="#222" textLength="23.3" lengthAdjust="spacingAndGlyphs">49.09</text>
<text x="1030.3" y="23" font-size="10" font-weight="bold" textLength="20.6" lengthAdjust="spacingAndGlyphs">High</text>
<text x="1054.3" y="23" font-size="9" fill="#222" textLength="23.6" lengthAdjust="spacingAndGlyphs">50.00</text>
<text x="1084.2" y="23" font-size="10" font-weight="bold" textLength="20.1" lengthAdjust="spacingAndGlyphs">Low</text>
<text x="1108.1" y="23" font-size="9" fill="#222" textLength="23.6" lengthAdjust="spacingAndGlyphs">48.72</text>
<text x="1138.1" y="23" font-size="10" font-weight="bold" textLength="27.1" lengthAdjust="spacingAndGlyphs">Close</text>
<text x="1169.1" y="23" font-size="9" fill="#222" textLength="23.9" lengthAdjust="spacingAndGlyphs">49.84</text>
<text x="1199.3" y="23" font-size="10" font-weight="bold" textLength="36.5" lengthAdjust="spacingAndGlyphs">Volume</text>
<text x="1239.9" y="23" font-size="9" fill="#222" textLength="30.6" lengthAdjust="spacingAndGlyphs">431.4K</text>
<text x="1275.9" y="23" font-size="10" font-weight="bold" textLength="18.5" lengthAdjust="spacingAndGlyphs">Chg</text>
<text x="1298.0" y="23" font-size="9" fill="#222" textLength="64.8" lengthAdjust="spacingAndGlyphs">+0.98 (+2.01%)</text>
<path d="M1366 22L1369 18.7L1372 22Z" fill="#0a5c0a"/>
<text x="28.5" y="91.2" font-size="9" font-family="'DejaVu Sans','Liberation Sans',sans-serif" fill="#000" textLength="147" lengthAdjust="spacingAndGlyphs">$WTIC (Daily) 49.84 (20 Jun)</text>
<path d="M18.5 84.5V89M17 86.5h1.5M20.5 87V91.5M19.5 91h2M23.5 84.5V90.5M23.5 87h1.5" stroke="#111" fill="none" shape-rendering="crispEdges"/>
<path d="M16.5 132V151M17 142.5H19M20.5 111V148M18 142.5H20M21 116.5H23M24.5 93V120M22 116.5H24M25 116.5H27M28.5 107V151M26 116.5H28M29 142.5H31M33.5 129V156M31 142.5H33M34 135.5H36M37.5 130V146M35 136.5H37M38 138.5H40M41.5 106V141M39 138.5H41M42 108.5H44M45.5 99V127M43 108.5H45M46 126.5H48M49.5 114V138M47 126.5H49M50 132.5H52M53.5 128V152M51 132.5H53M54 128.5H56M58.5 101V128M56 118.5H58M59 121.5H61M62.5 121V159M60 122.5H62M63 154.5H65M66.5 141V155M64 154.5H66M67 145.5H69M70.5 113V146M68 145.5H70M71 117.5H73M74.5 115V137M72 117.5H74M75 127.5H77M78.5 124V162M76 126.5H78M79 152.5H81M82.5 143V168M80 152.5H82M83 162.5H85M87.5 156V180M85 162.5H87M88 157.5H90M91.5 116V162M89 158.5H91M92 122.5H94M95.5 117V139M93 122.5H95M96 123.5H98M99.5 103V126M97 122.5H99M100 111.5H102M103.5 105V137M101 111.5H103M104 134.5H106M107.5 128V161M105 134.5H107M108 157.5H110M111.5 139V176M109 157.5H111M112 142.5H114M116.5 140V160M114 142.5H116M117 154.5H119M120.5 117V154M118 153.5H120M121 118.5H123M124.5 99V121M122 118.5H124M125 110.5H127M128.5 104V125M126 110.5H128M129 119.5H131M132.5 119V132M130 119.5H132M133 128.5H135M136.5 128V147M134 128.5H136M137 133.5H139M141.5 121V137M139 133.5H141M142 127.5H144M145.5 106V146M143 127.5H145M146 130.5H148M149.5 114V139M147 130.5H149M150 114.5H152M153.5 113V139M151 114.5H153M154 130.5H156M157.5 118V139M155 130.5H157M158 123.5H160M161.5 104V135M159 123.5H161M162 110.5H164M165.5 104V131M163 110.5H165M166 123.5H168M170.5 120V137M168 123.5H170M171 132.5H173M174.5 128V146M172 132.5H174M175 144.5H177M178.5 139V158M176 144.5H178M179 154.5H181M182.5 131V159M180 154.5H182M183 142.5H185M186.5 143V178M184 143.5H186M187 174.5H189M190.5 158V181M188 174.5H190M191 180.5H193M195.5 197V243M193 204.5H195M196 237.5H198M199.5 227V271M197 237.5H199M200 234.5H202M203.5 234V265M201 234.5H203M204 251.5H206M207.5 225V256M205 251.5H207M208 240.5H210M211.5 220V249M209 240.5H211M212 236.5H214M215.5 231V260M213 246.5H215M216 248.5H218M219.5 227V266M217 248.5H219M220 227.5H222M224.5 225V261M222 227.5H224M225 254.5H227M228.5 246V266M226 254.5H228M229 264.5H231M232.5 260V276M230 264.5H232M233 266.5H235M236.5 255V276M234 262.5H236M237 275.5H239M240.5 257V278M238 275.5H240M241 268.5H243M244.5 268V294M242 268.5H244M245 290.5H247M249.5 284V306M247 290.5H249M250 296.5H252M253.5 293V314M251 296.5H253M254 308.5H256M257.5 306V326M255 308.5H257M258 324.5H260M261.5 302V329M259 324.5H261M262 312.5H264M265.5 286V319M263 312.5H265M266 295.5H268M269.5 289V304M267 295.5H269M270 302.5H272M273.5 299V329M271 302.5H273M274 326.5H276M278.5 325V354M276 327.5H278M279 348.5H281M282.5 336V349M280 348.5H282M283 339.5H285M286.5 329V356M284 339.5H286M287 352.5H289M290.5 351V367M288 352.5H290M291 356.5H293M294.5 352V375M292 356.5H294M295 372.5H297M298.5 354V379M296 373.5H298M299 375.5H301M302.5 349V390M300 373.5H302M303 380.5H305M307.5 372V389M305 380.5H307M308 380.5H310M311.5 374V401M309 380.5H311M312 397.5H314M315.5 385V410M313 397.5H315M316 396.5H318M319.5 390V406M317 396.5H319M320 401.5H322M323.5 386V409M321 401.5H323M324 394.5H326M327.5 381V417M325 386.5H327M328 415.5H330M332.5 402V424M330 415.5H332M333 414.5H335M336.5 408V432M334 414.5H336M337 424.5H339M340.5 423V465M338 424.5H340M341 459.5H343M344.5 431V458M342 457.5H344M345 434.5H347M348.5 431V453M346 434.5H348M349 447.5H351M352.5 387V447M350 446.5H352M353 390.5H355M356.5 341V404M354 390.5H356M357 354.5H359M361.5 289V376M359 340.5H361M362 306.5H364M365.5 296V368M363 306.5H365M366 366.5H368M369.5 327V381M367 366.5H369M370 338.5H372M373.5 303V345M371 338.5H373M374 329.5H376M377.5 321V345M375 329.5H377M378 342.5H380M381.5 333V368M379 342.5H381M382 343.5H384M386.5 335V368M384 343.5H386M387 367.5H389M390.5 339V379M388 367.5H390M391 343.5H393M394.5 340V368M392 343.5H394M395 357.5H397M398.5 355V376M396 357.5H398M399 367.5H401M402.5 350V371M400 367.5H402M403 352.5H405M406.5 319V357M404 352.5H406M407 322.5H409M410.5 313V335M408 322.5H410M411 325.5H413M415.5 319V361M413 323.5H415M416 349.5H418M419.5 324V354M417 349.5H419M420 328.5H422M423.5 327V349M421 328.5H423M424 331.5H426M427.5 322V363M425 331.5H427M428 360.5H430M431.5 351V374M429 360.5H431M432 352.5H434M435.5 333V357M433 352.5H435M436 349.5H438M439.5 347V365M437 349.5H439M440 362.5H442M444.5 344V365M442 362.5H444M445 355.5H447M448.5 341V359M446 355.5H448M449 348.5H451M452.5 324V360M450 348.5H452M453 353.5H455M456.5 342V371M454 353.5H456M457 344.5H459M460.5 325V351M458 344.5H460M461 336.5H463M464.5 292V344M462 336.5H464M465 293.5H467M469.5 283V314M467 293.5H469M470 306.5H472M473.5 277V314M471 306.5H473M474 283.5H476M477.5 264V292M475 283.5H477M478 285.5H480M481.5 276V324M479 285.5H481M482 317.5H484M485.5 302V333M483 317.5H485M486 329.5H488M489.5 324V341M487 329.5H489M490 335.5H492M493.5 324V351M491 335.5H493M494 325.5H496M498.5 309V331M496 317.5H498M499 311.5H501M502.5 310V336M500 311.5H502M503 330.5H505M506.5 325V344M504 330.5H506M507 340.5H509M510.5 338V357M508 340.5H510M511 350.5H513M514.5 338V355M512 350.5H514M515 347.5H517M518.5 343V366M516 347.5H518M519 357.5H521M523.5 354V374M521 357.5H523M524 373.5H526M527.5 371V391M525 373.5H527M528 378.5H530M531.5 336V384M529 378.5H531M532 337.5H534M535.5 327V352M533 337.5H535M536 343.5H538M539.5 324V348M537 343.5H539M540 332.5H542M543.5 328V346M541 332.5H543M544 337.5H546M547.5 303V339M545 337.5H547M548 313.5H550M552.5 304V338M550 313.5H552M553 330.5H555M556.5 329V353M554 330.5H556M557 348.5H559M560.5 345V367M558 348.5H560M561 362.5H563M564.5 352V374M562 362.5H564M565 367.5H567M568.5 357V376M566 367.5H568M569 374.5H571M572.5 367V391M570 374.5H572M573 382.5H575M577.5 380V406M575 382.5H577M578 405.5H580M581.5 397V426M579 405.5H581M582 419.5H584M585.5 396V430M583 417.5H585M586 413.5H588M589.5 399V421M587 413.5H589M590 400.5H592M593.5 389V410M591 400.5H593M594 400.5H596M597.5 394V411M595 400.5H597M598 402.5H600M601.5 388V409M599 401.5H601M602 407.5H604M606.5 389V424M604 407.5H606M607 399.5H609M610.5 377V403M608 399.5H610M611 390.5H613M614.5 381V404M612 390.5H614M615 381.5H617M618.5 380V405M616 381.5H618M619 403.5H621M622.5 391V408M620 403.5H622M623 404.5H625M626.5 396V413M624 404.5H626M627 404.5H629M630.5 400V433M628 404.5H630M631 428.5H633M635.5 403V429M633 428.5H635M636 410.5H638M639.5 399V436M637 410.5H639M640 427.5H642M643.5 428V468M641 428.5H643M644 464.5H646M647.5 451V481M645 464.5H647M648 462.5H650M651.5 445V478M649 462.5H651M652 471.5H654M655.5 467V484M653 471.5H655M656 480.5H658M660.5 478V504M658 480.5H660M661 500.5H663M664.5 480V514M662 500.5H664M665 484.5H667M668.5 462V490M666 484.5H668M669 479.5H671M672.5 470V501M670 479.5H672M673 494.5H675M676.5 474V491M674 484.5H676M677 488.5H679M680.5 476V496M678 488.5H680M681 492.5H683M684.5 489V501M682 492.5H684M685 493.5H687M689.5 483V496M687 493.5H689M690 483.5H692M693.5 461V486M691 483.5H693M694 462.5H696M697.5 456V471M695 462.5H697M698 458.5H700M701.5 458V481M699 458.5H701M702 480.5H704M705.5 461V481M703 480.5H705M706 470.5H708M709.5 469V485M707 470.5H709M710 478.5H712M714.5 472V488M712 478.5H714M715 477.5H717M718.5 454V486M716 466.5H718M719 477.5H721M722.5 474V495M720 477.5H722M723 487.5H725M726.5 484V525M724 487.5H726M727 519.5H729M730.5 516V550M728 519.5H730M731 532.5H733M734.5 516V542M732 532.5H734M735 537.5H737M738.5 532V569M736 537.5H738M739 564.5H741M743.5 548V583M741 564.5H743M744 573.5H746M747.5 556V580M745 573.5H747M748 572.5H750M751.5 555V577M749 572.5H751M752 563.5H754M755.5 549V581M753 563.5H755M756 571.5H758M759.5 561V591M757 579.5H759M760 590.5H762M763.5 586V619M761 590.5H763M764 607.5H766M768.5 578V614M766 607.5H768M769 583.5H771M772.5 546V589M770 583.5H772M773 550.5H775M776.5 540V586M774 550.5H776M777 584.5H779M780.5 545V593M778 584.5H780M781 574.5H783M784.5 539V579M782 574.5H784M785 548.5H787M788.5 509V556M786 548.5H788M789 525.5H791M792.5 515V541M790 525.5H792M793 524.5H795M797.5 519V562M795 524.5H797M798 560.5H800M801.5 559V589M799 559.5H801M802 585.5H804M805.5 540V591M803 585.5H805M806 540.5H808M809.5 527V559M807 540.5H809M810 557.5H812M813.5 547V573M811 557.5H813M814 567.5H816M817.5 561V589M815 567.5H817M818 579.5H820M821.5 572V616M819 579.5H821M822 606.5H824M826.5 594V624M824 606.5H826M827 622.5H829M830.5 619V641M828 622.5H830M831 622.5H833M834.5 586V628M832 622.5H834M835 595.5H837M838.5 559V602M836 595.5H838M839 594.5H841M842.5 559V601M840 594.5H842M843 560.5H845M846.5 551V578M844 560.5H846M847 571.5H849M851.5 570V596M849 571.5H851M852 585.5H854M855.5 523V557M853 551.5H855M856 531.5H858M859.5 528V564M857 531.5H859M860 561.5H862M863.5 544V574M861 562.5H863M864 547.5H866M867.5 528V565M865 547.5H867M868 534.5H870M871.5 510V542M869 534.5H871M872 540.5H874M875.5 521V547M873 540.5H875M876 522.5H878M880.5 509V531M878 522.5H880M881 522.5H883M884.5 503V528M882 522.5H884M885 509.5H887M888.5 500V519M886 509.5H888M889 511.5H891M892.5 485V516M890 511.5H892M893 487.5H895M896.5 458V489M894 488.5H896M897 460.5H899M900.5 454V489M898 460.5H900M901 484.5H903M905.5 452V488M903 484.5H905M906 457.5H908M909.5 453V473M907 457.5H909M910 460.5H912M913.5 445V461M911 460.5H913M914 453.5H916M917.5 449V481M915 457.5H917M918 470.5H920M921.5 444V465M919 464.5H921M922 453.5H924M925.5 428V454M923 453.5H925M926 429.5H928M929.5 404V431M927 429.5H929M930 404.5H932M934.5 392V415M932 404.5H934M935 414.5H937M938.5 403V424M936 414.5H938M939 405.5H941M942.5 401V419M940 405.5H942M943 411.5H945M946.5 409V436M944 411.5H946M947 434.5H949M950.5 433V456M948 434.5H950M951 437.5H953M954.5 428V447M952 437.5H954M955 440.5H957M958.5 438V463M956 440.5H958M959 452.5H961M963.5 433V459M961 452.5H963M964 456.5H966M967.5 444V467M965 457.5H967M968 457.5H970M971.5 452V482M969 457.5H971M972 481.5H974M975.5 472V499M973 481.5H975M976 497.5H978M979.5 483V503M977 497.5H979M980 483.5H982M983.5 462V484M981 483.5H983M984 464.5H986M988.5 456V481M986 464.5H988M989 467.5H991M992.5 433V469M990 467.5H992M993 434.5H995M996.5 399V423M994 414.5H996M997 403.5H999M1000.5 376V408M998 403.5H1000M1001 384.5H1003M1004.5 374V391M1002 384.5H1004M1005 387.5H1007M1008.5 380V400M1006 387.5H1008M1009 390.5H1011M1012.5 386V413M1010 390.5H1012M1013 402.5H1015M1017.5 405V446M1015 431.5H1017M1018 407.5H1020M1021.5 386V417M1019 407.5H1021M1022 393.5H1024M1025.5 365V411M1023 393.5H1025M1026 370.5H1028M1029.5 362V384M1027 370.5H1029M1030 378.5H1032M1033.5 363V383M1031 378.5H1033M1034 373.5H1036M1037.5 369V391M1035 373.5H1037M1038 385.5H1040M1042.5 356V393M1040 385.5H1042M1043 358.5H1045M1046.5 345V373M1044 358.5H1046M1047 349.5H1049M1050.5 337V356M1048 349.5H1050M1051 340.5H1053M1054.5 327V351M1052 340.5H1054M1055 340.5H1057M1058.5 337V361M1056 340.5H1058M1059 354.5H1061M1062.5 349V380M1060 354.5H1062M1063 371.5H1065M1066.5 356V382M1064 371.5H1066M1067 368.5H1069M1071.5 338V370M1069 368.5H1071M1072 362.5H1074M1075.5 349V376M1073 362.5H1075M1076 354.5H1078M1079.5 340V381M1077 354.5H1079M1080 380.5H1082M1083.5 357V384M1081 380.5H1083M1084 360.5H1086M1087.5 322V359M1085 349.5H1087M1088 327.5H1090M1091.5 313V334M1089 327.5H1091M1092 321.5H1094M1096.5 319V331M1094 321.5H1096M1097 324.5H1099M1100.5 298V326M1098 324.5H1100M1101 299.5H1103M1104.5 287V307M1102 299.5H1104M1105 290.5H1107M1108.5 285V304M1106 290.5H1108M1109 302.5H1111M1112.5 296V321M1110 302.5H1112M1113 298.5H1115M1116.5 289V309M1114 297.5H1116M1117 301.5H1119M1120.5 301V319M1118 301.5H1120M1121 307.5H1123M1125.5 289V315M1123 307.5H1125M1126 292.5H1128M1129.5 282V299M1127 292.5H1129M1130 282.5H1132M1133.5 274V291M1131 282.5H1133M1134 288.5H1136M1137.5 284V299M1135 288.5H1137M1138 284.5H1140M1141.5 276V297M1139 284.5H1141M1142 296.5H1144M1145.5 289V313M1143 296.5H1145M1146 294.5H1148M1149.5 287V309M1147 294.5H1149M1150 292.5H1152M1154.5 288V304M1152 292.5H1154M1155 295.5H1157M1158.5 281V299M1156 295.5H1158M1159 282.5H1161M1162.5 271V287M1160 282.5H1162M1163 272.5H1165M1166.5 254V274M1164 272.5H1166M1167 255.5H1169M1170.5 253V276M1168 255.5H1170M1171 272.5H1173M1174.5 267V297M1172 272.5H1174M1175 296.5H1177M1179.5 289V307M1177 296.5H1179M1180 300.5H1182M1183.5 298V311M1181 300.5H1183M1184 310.5H1186M1187.5 290V313M1185 310.5H1187M1188 309.5H1190M1191.5 305V333M1189 309.5H1191M1192 330.5H1194M1195.5 295V334M1193 330.5H1195M1196 295.5H1198M1199.5 279V298M1197 292.5H1199M1200 280.5H1202" stroke="#1a1a1a" fill="none" shape-rendering="crispEdges"/>
<path d="M469 264.5H1250" stroke="#f25050" stroke-width="1.6" fill="none"/>
<path d="M368.6 301.2L465 325M365.3 382.9L465 370.3M1129.3 273.3L1175.7 283.9M1108.6 322.1L1170.7 307.1" stroke="#3a3aff" stroke-width="1" fill="none"/>
<path d="M1207.5 289L1232 328.5" stroke="#f00" stroke-width="1.8" stroke-dasharray="2.6 1.6" fill="none"/>
<path d="M1237.3 336.6L1226.4 330L1236.6 324.3Z" fill="#f00"/>
<path d="M1245 336.9L1324.2 130" stroke="#0b3d0b" stroke-width="1.7" stroke-dasharray="3 2" fill="none"/>
<path d="M1328.6 119.7L1319.4 126.9L1330.3 130.6Z" fill="#0b3d0b"/>
<text x="16.0" y="69.2" font-size="9.6" font-weight="bold" fill="#0000ff" textLength="23.7" lengthAdjust="spacingAndGlyphs">62.58</text>
<text x="16.9" y="84.2" font-size="13" font-weight="bold" fill="#0000ff" textLength="20.1" lengthAdjust="spacingAndGlyphs">-iv-</text>
<text x="111.6" y="79.1" font-size="9.6" font-weight="bold" fill="#0000ff" textLength="23.7" lengthAdjust="spacingAndGlyphs">61.82</text>
<text x="116.0" y="95.9" font-size="13" font-weight="bold" fill="#0000ff" textLength="14.0" lengthAdjust="spacingAndGlyphs">.ii.</text>
<text x="29.4" y="174.3" font-size="13" font-weight="bold" fill="#0000ff" textLength="9.6" lengthAdjust="spacingAndGlyphs">.i.</text>
<text x="24.0" y="187.6" font-size="9.6" font-weight="bold" fill="#0000ff" textLength="24.3" lengthAdjust="spacingAndGlyphs">58.14</text>
<text x="331.7" y="481.6" font-size="13" font-weight="bold" fill="#0000ff" textLength="17.6" lengthAdjust="spacingAndGlyphs">.iii.</text>
<text x="326.7" y="495.3" font-size="9.6" font-weight="bold" fill="#0000ff" textLength="24.0" lengthAdjust="spacingAndGlyphs">37.75</text>
<text x="347.5" y="269.8" font-size="9.6" font-weight="bold" fill="#0000ff" textLength="23.8" lengthAdjust="spacingAndGlyphs">49.33</text>
<text x="353.0" y="284.7" font-size="12" font-weight="bold" fill="#0000ff" textLength="14.1" lengthAdjust="spacingAndGlyphs">*a*</text>
<text x="463.0" y="231.6" font-size="9.6" font-weight="bold" fill="#0000ff" textLength="24.5" lengthAdjust="spacingAndGlyphs">50.92</text>
<text x="468.7" y="246.1" font-size="13" font-weight="bold" fill="#0000ff" textLength="18.0" lengthAdjust="spacingAndGlyphs">.iv.</text>
<text x="469.0" y="261.0" font-size="12" font-weight="bold" fill="#0000ff" textLength="14.5" lengthAdjust="spacingAndGlyphs">*c*</text>
<text x="448.6" y="386.7" font-size="12" font-weight="bold" fill="#0000ff" textLength="14.3" lengthAdjust="spacingAndGlyphs">*b*</text>
<text x="443.6" y="400.0" font-size="9.6" font-weight="bold" fill="#0000ff" textLength="23.5" lengthAdjust="spacingAndGlyphs">43.97</text>
<text x="488.6" y="306.4" font-size="10" font-weight="bold" fill="#0000ff" textLength="16.8" lengthAdjust="spacingAndGlyphs"><tspan font-size="8.5" dy="-1.2">^</tspan><tspan dy="1.2">a</tspan><tspan font-size="8.5" dy="-1.2">^</tspan></text>
<text x="489.3" y="367.4" font-size="12" font-weight="bold" fill="#0000ff" textLength="12.8" lengthAdjust="spacingAndGlyphs">*i*</text>
<text x="485.0" y="382.4" font-size="9.6" font-weight="bold" fill="#0000ff" textLength="23.1" lengthAdjust="spacingAndGlyphs">45.23</text>
<text x="518.6" y="406.0" font-size="10" font-weight="bold" fill="#0000ff" textLength="17.1" lengthAdjust="spacingAndGlyphs"><tspan font-size="8.5" dy="-1.2">^</tspan><tspan dy="1.2">b</tspan><tspan font-size="8.5" dy="-1.2">^</tspan></text>
<text x="535.0" y="271.7" font-size="9.6" font-weight="bold" fill="#0000ff" textLength="23.1" lengthAdjust="spacingAndGlyphs">48.36</text>
<text x="539.3" y="286.7" font-size="12" font-weight="bold" fill="#0000ff" textLength="16.4" lengthAdjust="spacingAndGlyphs">*ii*</text>
<text x="538.9" y="298.9" font-size="10" font-weight="bold" fill="#0000ff" textLength="16.5" lengthAdjust="spacingAndGlyphs"><tspan font-size="8.5" dy="-1.2">^</tspan><tspan dy="1.2">c</tspan><tspan font-size="8.5" dy="-1.2">^</tspan></text>
<text x="576.9" y="443.6" font-size="10" font-weight="bold" fill="#0000ff" textLength="13.4" lengthAdjust="spacingAndGlyphs"><tspan font-size="8.5" dy="-1.2">^</tspan><tspan dy="1.2">i</tspan><tspan font-size="8.5" dy="-1.2">^</tspan></text>
<text x="600.6" y="372.4" font-size="10" font-weight="bold" fill="#0000ff" textLength="17.7" lengthAdjust="spacingAndGlyphs"><tspan font-size="8.5" dy="-1.2">^</tspan><tspan dy="1.2">ii</tspan><tspan font-size="8.5" dy="-1.2">^</tspan></text>
<text x="655.4" y="526.3" font-size="10" font-weight="bold" fill="#0000ff" textLength="18.7" lengthAdjust="spacingAndGlyphs"><tspan font-size="8.5" dy="-1.2">^</tspan><tspan dy="1.2">iii</tspan><tspan font-size="8.5" dy="-1.2">^</tspan></text>
<text x="708.9" y="448.9" font-size="10" font-weight="bold" fill="#0000ff" textLength="18.9" lengthAdjust="spacingAndGlyphs"><tspan font-size="8.5" dy="-1.2">^</tspan><tspan dy="1.2">iv</tspan><tspan font-size="8.5" dy="-1.2">^</tspan></text>
<text x="775.7" y="488.7" font-size="9.6" font-weight="bold" fill="#0000ff" textLength="23.6" lengthAdjust="spacingAndGlyphs">34.82</text>
<text x="780.0" y="504.6" font-size="12" font-weight="bold" fill="#0000ff" textLength="18.9" lengthAdjust="spacingAndGlyphs">*iv*</text>
<text x="754.6" y="632.2" font-size="10" font-weight="bold" fill="#0000ff" textLength="16.5" lengthAdjust="spacingAndGlyphs"><tspan font-size="8.5" dy="-1.2">^</tspan><tspan dy="1.2">v</tspan><tspan font-size="8.5" dy="-1.2">^</tspan></text>
<text x="755.0" y="644.8" font-size="12" font-weight="bold" fill="#0000ff" textLength="20.0" lengthAdjust="spacingAndGlyphs">*iii*</text>
<text x="750.0" y="672.7" font-size="9.6" font-weight="bold" fill="#0000ff" textLength="24.3" lengthAdjust="spacingAndGlyphs">27.56</text>
<text x="842.9" y="503.9" font-size="9.6" font-weight="bold" fill="#0000ff" textLength="24.0" lengthAdjust="spacingAndGlyphs">33.84</text>
<text x="846.0" y="518.6" font-size="10" font-weight="bold" fill="#0000ff" textLength="13.4" lengthAdjust="spacingAndGlyphs"><tspan font-size="8.5" dy="-1.2">^</tspan><tspan dy="1.2">i</tspan><tspan font-size="8.5" dy="-1.2">^</tspan></text>
<text x="854.6" y="586.0" font-size="10" font-weight="bold" fill="#0000ff" textLength="16.5" lengthAdjust="spacingAndGlyphs"><tspan font-size="8.5" dy="-1.2">^</tspan><tspan dy="1.2">ii</tspan><tspan font-size="8.5" dy="-1.2">^</tspan></text>
<text x="855.0" y="599.6" font-size="9.6" font-weight="bold" fill="#0000ff" textLength="23.3" lengthAdjust="spacingAndGlyphs">31.61</text>
<text x="821.9" y="670.0" font-size="13" font-weight="bold" fill="#0000ff" textLength="14.1" lengthAdjust="spacingAndGlyphs">.v.</text>
<text x="821.9" y="684.5" font-size="13" font-weight="bold" fill="#0000ff" textLength="18.1" lengthAdjust="spacingAndGlyphs">-v-</text>
<text x="821.9" y="701.1" font-size="14.5" font-weight="bold" fill="#0000ff" textLength="17.6" lengthAdjust="spacingAndGlyphs">(c)</text>
<text x="826.6" y="719.5" font-size="16.5" font-weight="bold" fill="#0000ff" textLength="9.2" lengthAdjust="spacingAndGlyphs">b</text>
<text x="787.8" y="713.9" font-size="9.6" font-weight="bold" fill="#0000ff" textLength="23.7" lengthAdjust="spacingAndGlyphs">26.05</text>
<text x="900.7" y="425.3" font-size="9.6" font-weight="bold" fill="#0000ff" textLength="23.6" lengthAdjust="spacingAndGlyphs">39.02</text>
<text x="903.6" y="438.9" font-size="10" font-weight="bold" fill="#0000ff" textLength="19.4" lengthAdjust="spacingAndGlyphs"><tspan font-size="8.5" dy="-1.2">^</tspan><tspan dy="1.2">iii</tspan><tspan font-size="8.5" dy="-1.2">^</tspan></text>
<text x="908.6" y="493.9" font-size="10" font-weight="bold" fill="#0000ff" textLength="18.7" lengthAdjust="spacingAndGlyphs"><tspan font-size="8.5" dy="-1.2">^</tspan><tspan dy="1.2">iv</tspan><tspan font-size="8.5" dy="-1.2">^</tspan></text>
<text x="908.9" y="508.6" font-size="9.6" font-weight="bold" fill="#0000ff" textLength="23.5" lengthAdjust="spacingAndGlyphs">36.68</text>
<text x="921.1" y="361.3" font-size="9.6" font-weight="bold" fill="#0000ff" textLength="24.0" lengthAdjust="spacingAndGlyphs">42.49</text>
<text x="925.0" y="377.0" font-size="12" font-weight="bold" fill="#0000ff" textLength="13.3" lengthAdjust="spacingAndGlyphs">*i*</text>
<text x="924.6" y="389.0" font-size="10" font-weight="bold" fill="#0000ff" textLength="16.0" lengthAdjust="spacingAndGlyphs"><tspan font-size="8.5" dy="-1.2">^</tspan><tspan dy="1.2">v</tspan><tspan font-size="8.5" dy="-1.2">^</tspan></text>
<text x="970.7" y="520.6" font-size="12" font-weight="bold" fill="#0000ff" textLength="16.2" lengthAdjust="spacingAndGlyphs">*ii*</text>
<text x="967.1" y="534.2" font-size="9.6" font-weight="bold" fill="#0000ff" textLength="23.9" lengthAdjust="spacingAndGlyphs">35.24</text>
<text x="992.1" y="353.9" font-size="9.6" font-weight="bold" fill="#0000ff" textLength="23.3" lengthAdjust="spacingAndGlyphs">43.69</text>
<text x="995.3" y="368.6" font-size="10" font-weight="bold" fill="#0000ff" textLength="15.1" lengthAdjust="spacingAndGlyphs"><tspan font-size="8.5" dy="-1.2">^</tspan><tspan dy="1.2">i</tspan><tspan font-size="8.5" dy="-1.2">^</tspan></text>
<text x="1007.5" y="459.6" font-size="10" font-weight="bold" fill="#0000ff" textLength="16.9" lengthAdjust="spacingAndGlyphs"><tspan font-size="8.5" dy="-1.2">^</tspan><tspan dy="1.2">ii</tspan><tspan font-size="8.5" dy="-1.2">^</tspan></text>
<text x="1004.3" y="474.6" font-size="9.6" font-weight="bold" fill="#0000ff" textLength="24.0" lengthAdjust="spacingAndGlyphs">39.00</text>
<text x="1041.1" y="307.2" font-size="9.6" font-weight="bold" fill="#0000ff" textLength="23.9" lengthAdjust="spacingAndGlyphs">46.78</text>
<text x="1051.0" y="323.4" font-size="11.5" font-weight="bold" fill="#0000ff" textLength="9.3" lengthAdjust="spacingAndGlyphs">!i!</text>
<text x="1078.9" y="399.3" font-size="11.5" font-weight="bold" fill="#0000ff" textLength="10.4" lengthAdjust="spacingAndGlyphs">!ii!</text>
<text x="1074.2" y="412.9" font-size="9.6" font-weight="bold" fill="#0000ff" textLength="23.8" lengthAdjust="spacingAndGlyphs">43.03</text>
<text x="1095.7" y="266.4" font-size="9.6" font-weight="bold" fill="#0000ff" textLength="23.6" lengthAdjust="spacingAndGlyphs">49.56</text>
<text x="1103.9" y="281.7" font-size="11.5" font-weight="bold" fill="#0000ff" textLength="13.0" lengthAdjust="spacingAndGlyphs">!iii!</text>
<text x="1154.0" y="327.8" font-size="11.5" font-weight="bold" fill="#0000ff" textLength="13.0" lengthAdjust="spacingAndGlyphs">!iv!</text>
<text x="1145.0" y="340.3" font-size="9.6" font-weight="bold" fill="#0000ff" textLength="23.6" lengthAdjust="spacingAndGlyphs">49.12</text>
<text x="1157.0" y="221.3" font-size="9.6" font-weight="bold" fill="#0000ff" textLength="23.7" lengthAdjust="spacingAndGlyphs">51.67</text>
<text x="1161.6" y="234.3" font-size="10" font-weight="bold" fill="#0000ff" textLength="18.7" lengthAdjust="spacingAndGlyphs"><tspan font-size="8.5" dy="-1.2">^</tspan><tspan dy="1.2">iii</tspan><tspan font-size="8.5" dy="-1.2">^</tspan></text>
<text x="1166.3" y="248.4" font-size="11.5" font-weight="bold" fill="#0000ff" textLength="10.7" lengthAdjust="spacingAndGlyphs">!v!</text>
<text x="1187.1" y="259.1" font-size="9.6" font-weight="bold" fill="#0000ff" textLength="23.6" lengthAdjust="spacingAndGlyphs">50.00</text>
<text x="1215.7" y="263.1" font-size="15" font-weight="bold" fill="#0000ff" textLength="7.4" lengthAdjust="spacingAndGlyphs">?</text>
<text x="1195.0" y="272.6" font-size="11.5" font-weight="bold" fill="#0000ff" textLength="11.4" lengthAdjust="spacingAndGlyphs">!b!</text>
<text x="1190.5" y="348.3" font-size="11.5" font-weight="bold" fill="#0000ff" textLength="10.6" lengthAdjust="spacingAndGlyphs">!a!</text>
<text x="1186.8" y="360.9" font-size="10" font-weight="bold" fill="#ff0000" textLength="18.6" lengthAdjust="spacingAndGlyphs"><tspan font-size="8.5" dy="-1.2">^</tspan><tspan dy="1.2">iv</tspan><tspan font-size="8.5" dy="-1.2">^</tspan></text>
<text x="1208.7" y="356.7" font-size="13" font-weight="bold" fill="#0000ff" textLength="6.1" lengthAdjust="spacingAndGlyphs">?</text>
<text x="1183.0" y="373.5" font-size="9.6" font-weight="bold" fill="#0000ff" textLength="23.7" lengthAdjust="spacingAndGlyphs">46.40</text>
<text x="1236.0" y="350.3" font-size="11.5" font-weight="bold" fill="#0000ff" textLength="11.0" lengthAdjust="spacingAndGlyphs">!c!</text>
<text x="1232.0" y="363.1" font-size="10" font-weight="bold" fill="#0000ff" textLength="19.0" lengthAdjust="spacingAndGlyphs"><tspan font-size="8.5" dy="-1.2">^</tspan><tspan dy="1.2">iv</tspan><tspan font-size="8.5" dy="-1.2">^</tspan></text>
<text x="1215.6" y="377.7" font-size="9.6" font-weight="bold" fill="#0000ff" textLength="47.5" lengthAdjust="spacingAndGlyphs">50%=48.68</text>
<text x="1215.6" y="392.5" font-size="9.6" font-weight="bold" fill="#0000ff" textLength="55.9" lengthAdjust="spacingAndGlyphs">61.8%=46.83</text>
<text x="1265.7" y="88.3" font-size="9.6" font-weight="bold" fill="#0000ff" textLength="84.2" lengthAdjust="spacingAndGlyphs">*iii*=1.618*i*=61.84</text>
<text x="1324.0" y="103.3" font-size="12" font-weight="bold" fill="#0000ff" textLength="19.8" lengthAdjust="spacingAndGlyphs">*iii*</text>
<text x="1323.6" y="116.1" font-size="10" font-weight="bold" fill="#0000ff" textLength="16.0" lengthAdjust="spacingAndGlyphs"><tspan font-size="8.5" dy="-1.2">^</tspan><tspan dy="1.2">v</tspan><tspan font-size="8.5" dy="-1.2">^</tspan></text>
<clipPath id="cv"><rect x="815" y="648" width="30" height="12"/></clipPath>
<text clip-path="url(#cv)" x="821.4" y="656.6" font-size="13" font-weight="bold" fill="#0000ff" textLength="16.6" lengthAdjust="spacingAndGlyphs">*v*</text>
<rect x="863.5" y="135.5" width="154.5" height="28.5" fill="#b0b0b0"/>
<rect x="861.5" y="133.5" width="154" height="28.5" fill="#fff" stroke="#6e6e6e"/>
<text x="863.6" y="154.3" font-size="18" font-weight="bold" textLength="140.4" lengthAdjust="spacingAndGlyphs">Updated June 21</text>
<rect x="999.5" y="593.5" width="252" height="37.5" fill="#b0b0b0"/>
<rect x="997.5" y="591.5" width="252" height="37.5" fill="#fff" stroke="#6e6e6e"/>
<text x="1000.4" y="607.5" font-size="12" font-weight="bold" textLength="168.2" lengthAdjust="spacingAndGlyphs">WWW.CAPTAINEWAVE.COM</text>
<text x="1000.4" y="623.6" font-size="12" font-weight="bold" textLength="228.6" lengthAdjust="spacingAndGlyphs">EMAIL: ADMIN@CAPTAINEWAVE.COM</text>
</svg></body></html>
